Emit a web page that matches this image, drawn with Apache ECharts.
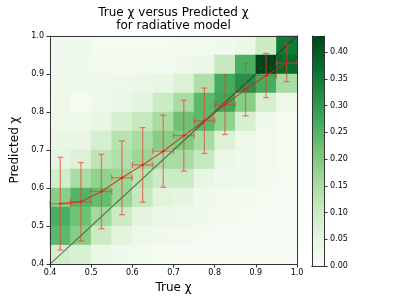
<!DOCTYPE html>
<html><head><meta charset="utf-8">
<script src="https://cdn.jsdelivr.net/npm/echarts@6/dist/echarts.min.js"></script>
<style>html,body{margin:0;padding:0;background:#fff}#c{width:399px;height:299px}</style>
</head><body><div id="c"></div>
<script>
// bin lower edges (bottom to top / left to right)
const binLabels = ['0.40','0.45','0.50','0.55','0.60','0.65','0.70','0.75','0.80','0.85','0.90','0.95'];
// heatmap rows, from top row (0.95-1.00) down to bottom row (0.40-0.45)
const heatRows = [
  [0.020,0.020,0.010,0.010,0.010,0.010,0.015,0.015,0.020,0.035,0.100,0.350],
  [0.020,0.020,0.015,0.015,0.015,0.015,0.025,0.035,0.110,0.260,0.430,0.375],
  [0.025,0.020,0.020,0.030,0.035,0.045,0.070,0.140,0.265,0.315,0.265,0.150],
  [0.030,0.010,0.025,0.035,0.055,0.100,0.150,0.240,0.275,0.190,0.080,0.030],
  [0.030,0.030,0.045,0.080,0.110,0.150,0.220,0.240,0.180,0.080,0.025,0.010],
  [0.045,0.045,0.080,0.130,0.150,0.190,0.200,0.150,0.070,0.030,0.015,0.010],
  [0.050,0.070,0.120,0.140,0.170,0.150,0.150,0.110,0.040,0.020,0.015,0.010],
  [0.090,0.150,0.180,0.170,0.130,0.100,0.100,0.045,0.025,0.020,0.012,0.010],
  [0.190,0.250,0.230,0.170,0.110,0.060,0.050,0.020,0.015,0.012,0.010,0.008],
  [0.260,0.220,0.160,0.100,0.055,0.035,0.030,0.020,0.012,0.010,0.008,0.006],
  [0.240,0.190,0.100,0.055,0.030,0.022,0.015,0.010,0.008,0.006,0.005,0.005],
  [0.090,0.075,0.035,0.020,0.015,0.010,0.006,0.005,0.005,0.004,0.004,0.004]
];
const binCenters = [0.425,0.475,0.525,0.575,0.625,0.675,0.725,0.775,0.825,0.875,0.925,0.975];
const meanPred = [0.559,0.564,0.591,0.627,0.661,0.697,0.738,0.777,0.819,0.859,0.896,0.929];
const stdPred  = [0.122,0.103,0.098,0.097,0.098,0.095,0.093,0.086,0.078,0.069,0.058,0.049];
const trueErr  = [0.025,0.025,0.025,0.025,0.025,0.025,0.025,0.025,0.025,0.025,0.025,0.025];
const axisTicks = [0.4,0.5,0.6,0.7,0.8,0.9,1.0];
const cbTicks = [0,0.05,0.10,0.15,0.20,0.25,0.30,0.35,0.40];
const cbMax = 0.43;
const diagLine = [[0.4,0.4],[1.0,1.0]];
const greens = ['#f7fcf5','#e5f5e0','#c7e9c0','#a1d99b','#74c476','#41ab5d','#238b45','#006d2c','#00441b'];

const heatData = [];
heatRows.forEach((row, i) => row.forEach((v, j) => heatData.push([j, heatRows.length - 1 - i, v])));
const errData = binCenters.map((x, i) => [x, meanPred[i], stdPred[i], trueErr[i]]);
const lineData = binCenters.map((x, i) => [x, meanPred[i]]);

const FONT = 'DejaVu Sans';
const spine = '#333';
const lbl = {fontFamily: FONT, fontSize: 8, color: '#000'};

const chart = echarts.init(document.getElementById('c'), null, {renderer: 'canvas'});
chart.setOption({
  animation: false,
  backgroundColor: '#fff',
  title: {
    text: 'True χ versus Predicted χ\nfor radiative model',
    left: 173.5, top: 6, padding: 0, textAlign: 'center',
    textStyle: {fontFamily: FONT, fontSize: 12, fontWeight: 'normal', color: '#000', lineHeight: 13.5}
  },
  grid: [
    {left: 50, top: 36, width: 247, height: 230, containLabel: false},
    {left: 312, top: 36, width: 12, height: 230, containLabel: false}
  ],
  visualMap: {
    type: 'continuous', show: false, min: 0, max: cbMax, dimension: 2, seriesIndex: 0,
    inRange: {color: greens}
  },
  xAxis: [
    {type: 'category', gridIndex: 0, data: binLabels, show: false},
    {type: 'value', gridIndex: 0, position: 'bottom', min: 0.4, max: 1.0, interval: 0.1, z: 10,
     axisLine: {show: true, onZero: false, lineStyle: {color: spine, width: 1}},
     axisTick: {show: true, length: 3.5, lineStyle: {color: spine}},
     axisLabel: Object.assign({margin: 5, formatter: v => v.toFixed(1), customValues: axisTicks}, lbl),
     splitLine: {show: false},
     name: 'True χ', nameLocation: 'middle', nameGap: 17,
     nameTextStyle: {fontFamily: FONT, fontSize: 12, color: '#000'}},
    {type: 'value', gridIndex: 0, position: 'top', min: 0.4, max: 1.0, z: 10,
     axisLine: {show: true, onZero: false, lineStyle: {color: spine, width: 1}},
     axisTick: {show: false}, axisLabel: {show: false}, splitLine: {show: false}},
    {type: 'category', gridIndex: 1, data: ['cb'], position: 'bottom', z: 10,
     axisLine: {show: true, lineStyle: {color: spine}}, axisTick: {show: false}, axisLabel: {show: false}},
    {type: 'category', gridIndex: 1, data: ['cb'], position: 'top', z: 10,
     axisLine: {show: true, lineStyle: {color: spine}}, axisTick: {show: false}, axisLabel: {show: false}}
  ],
  yAxis: [
    {type: 'category', gridIndex: 0, data: binLabels, show: false},
    {type: 'value', gridIndex: 0, position: 'left', min: 0.4, max: 1.0, interval: 0.1, z: 10,
     axisLine: {show: true, onZero: false, lineStyle: {color: spine, width: 1}},
     axisTick: {show: true, length: 3.5, lineStyle: {color: spine}},
     axisLabel: Object.assign({margin: 6, formatter: v => v.toFixed(1), customValues: axisTicks}, lbl),
     splitLine: {show: false},
     name: 'Predicted χ', nameLocation: 'middle', nameGap: 23,
     nameTextStyle: {fontFamily: FONT, fontSize: 12, color: '#000'}},
    {type: 'value', gridIndex: 0, position: 'right', min: 0.4, max: 1.0, z: 10,
     axisLine: {show: true, onZero: false, lineStyle: {color: spine, width: 1}},
     axisTick: {show: false}, axisLabel: {show: false}, splitLine: {show: false}},
    {type: 'value', gridIndex: 1, position: 'right', min: 0, max: cbMax, z: 10,
     axisLine: {show: true, onZero: false, lineStyle: {color: spine}},
     axisTick: {show: true, length: 3.5, lineStyle: {color: spine}, customValues: cbTicks},
     axisLabel: Object.assign({margin: 6, formatter: v => v.toFixed(2), customValues: cbTicks}, lbl),
     splitLine: {show: false}},
    {type: 'value', gridIndex: 1, position: 'left', min: 0, max: cbMax, z: 10,
     axisLine: {show: true, onZero: false, lineStyle: {color: spine}},
     axisTick: {show: false}, axisLabel: {show: false}, splitLine: {show: false}}
  ],
  series: [
    {type: 'heatmap', xAxisIndex: 0, yAxisIndex: 0, data: heatData, itemStyle: {borderWidth: 0}, emphasis: {disabled: true}},
    {type: 'line', xAxisIndex: 1, yAxisIndex: 1, data: diagLine, symbol: 'none', z: 3,
     lineStyle: {color: 'rgba(40,40,40,0.6)', width: 1.2}},
    {type: 'custom', xAxisIndex: 1, yAxisIndex: 1, data: errData, z: 4,
     renderItem: function (params, api) {
       const x = api.value(0), y = api.value(1), sd = api.value(2), xe = api.value(3);
       const top = api.coord([x, y + sd]), bot = api.coord([x, y - sd]);
       const lft = api.coord([x - xe, y]), rgt = api.coord([x + xe, y]);
       const cap = 3;
       const st = {stroke: 'rgba(235,60,45,0.6)', lineWidth: 1.3, fill: null};
       const L = (x1, y1, x2, y2) => ({type: 'line', shape: {x1, y1, x2, y2}, style: st});
       return {type: 'group', children: [
         L(top[0], top[1], bot[0], bot[1]),
         L(top[0] - cap, top[1], top[0] + cap, top[1]),
         L(bot[0] - cap, bot[1], bot[0] + cap, bot[1]),
         L(lft[0], lft[1], rgt[0], rgt[1]),
         L(lft[0], lft[1] - cap, lft[0], lft[1] + cap),
         L(rgt[0], rgt[1] - cap, rgt[0], rgt[1] + cap)
       ]};
     }},
    {type: 'line', xAxisIndex: 1, yAxisIndex: 1, data: lineData, z: 5,
     symbol: 'circle', symbolSize: 2.5, itemStyle: {color: 'rgba(230,30,20,0.9)'},
     lineStyle: {color: 'rgba(230,30,20,0.85)', width: 1.1}},
    {type: 'bar', xAxisIndex: 3, yAxisIndex: 3, data: [cbMax], barWidth: '100%', silent: true,
     itemStyle: {color: {type: 'linear', x: 0, y: 1, x2: 0, y2: 0,
       colorStops: greens.map((c, i) => ({offset: i / (greens.length - 1), color: c}))}}}
  ]
});
</script></body></html>
